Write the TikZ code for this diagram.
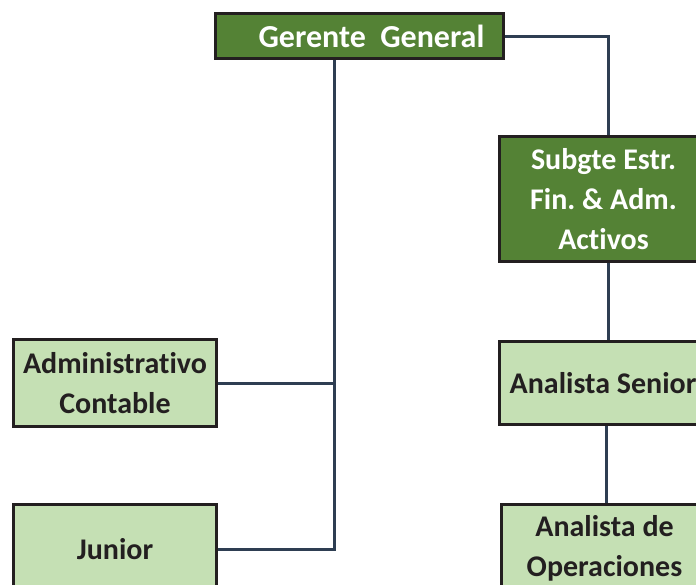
\documentclass[tikz,border=0pt]{standalone}
\usepackage{fontspec}
\setmainfont[Ligatures=NoCommon]{Carlito}
\usetikzlibrary{calc}
\definecolor{dkgreen}{HTML}{548235}
\definecolor{ltgreen}{HTML}{C5E0B4}
\definecolor{boxline}{HTML}{231F20}
\definecolor{connc}{HTML}{2E3E52}
\tikzset{
  orgbox/.style={draw=boxline, line width=3pt, anchor=north west, align=center,
    font=\fontsize{30}{40}\selectfont\bfseries\frenchspacing, inner sep=0pt},
  topbox/.style={orgbox, fill=dkgreen, text=white},
  lowbox/.style={orgbox, fill=ltgreen, text=boxline},
  conn/.style={draw=connc, line width=3pt}
}
\begin{document}
\begin{tikzpicture}[x=1pt,y=1pt]
\useasboundingbox (0,0) rectangle (696,-584);
\clip (0,0) rectangle (696,-584);
% nodes
\node[topbox, minimum width=288pt, minimum height=45pt, font=\fontsize{32}{40}\selectfont\bfseries] (G) at (214,-12) {\hspace*{24pt}Gerente~~General};
\node[topbox, minimum width=208pt, minimum height=125pt] (S) at (498,-135) {Subgte Estr.\\Fin. \& Adm.\\Activos};
\node[lowbox, minimum width=207pt, minimum height=83pt] (AS) at (498,-340) {Analista Senior};
\node[lowbox, minimum width=206pt, minimum height=88pt] (AO) at (500,-503) {Analista de\\Operaciones};
\node[lowbox, minimum width=203pt, minimum height=87pt] (A) at (12,-338) {Administrativo\\Contable};
\node[lowbox, minimum width=203pt, minimum height=90pt] (J) at (12,-503) {Junior};
% connectors
\coordinate (trunk) at ([xshift=-25pt]G.south);
\coordinate (sx) at ([xshift=5pt]S.north);
\draw[conn] (G.east) -| (sx);
\draw[conn] (trunk) |- (J.east);
\draw[conn] (A.east) -- (A.east -| trunk);
\draw[conn] (S.south -| sx) -- (AS.north -| sx);
\draw[conn] ([xshift=3pt]AS.south) -- ([xshift=3pt]AS.south |- AO.north);
\end{tikzpicture}
\end{document}
